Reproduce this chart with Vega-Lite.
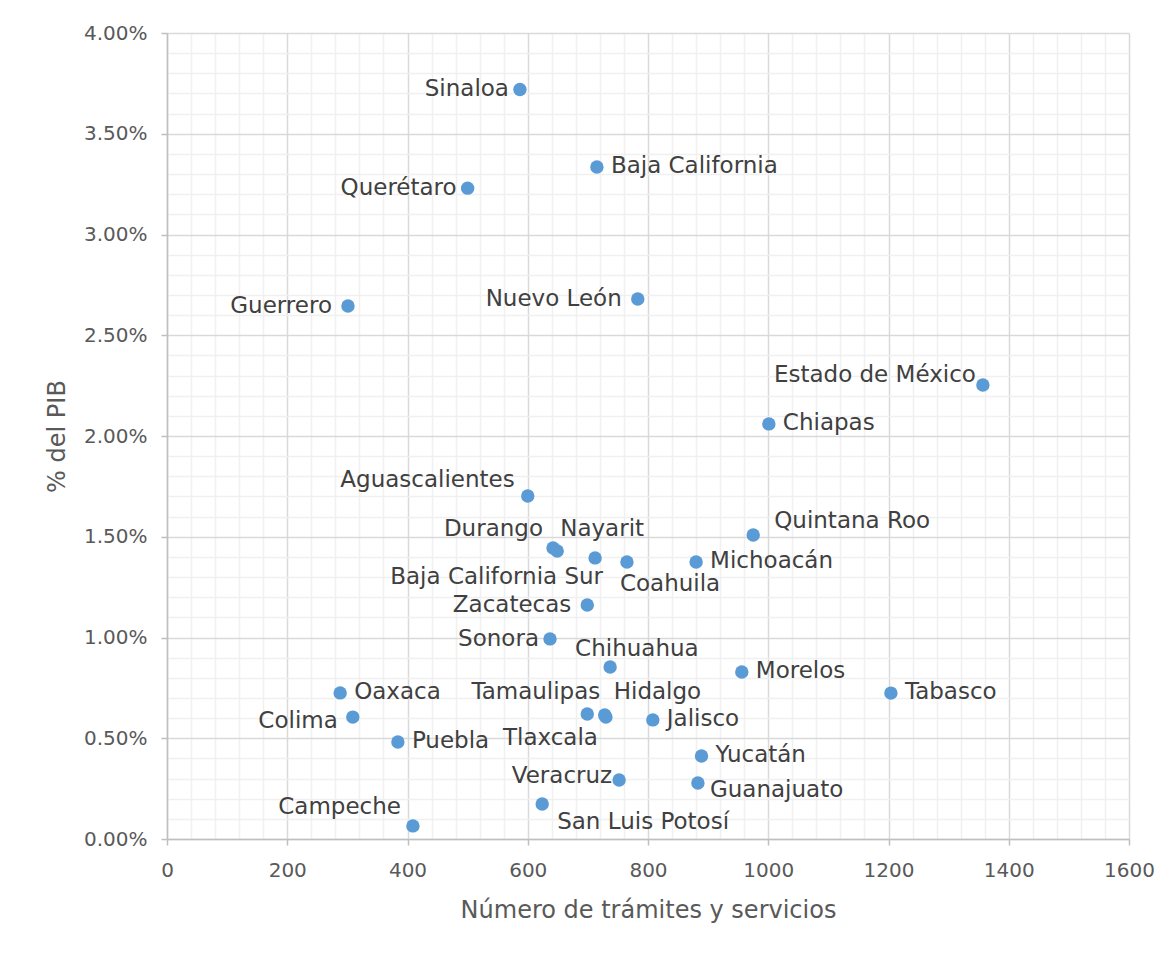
{
  "$schema": "https://vega.github.io/schema/vega-lite/v6.json",
  "width": 962,
  "height": 806,
  "autosize": {"type": "none"},
  "padding": {"left": 167, "top": 33, "right": 46, "bottom": 114},
  "background": "white",
  "config": {
    "view": {"stroke": null},
    "font": "DejaVu Sans",
    "text": {"fontSize": 23, "color": "#404040", "font": "DejaVu Sans", "baseline": "middle"},
    "axis": {
      "labelFont": "DejaVu Sans",
      "labelFontSize": 20,
      "labelColor": "#595959",
      "titleFont": "DejaVu Sans",
      "titleFontSize": 24,
      "titleFontWeight": "normal",
      "titleColor": "#595959",
      "domainColor": "#BFBFBF",
      "domainWidth": 1.5,
      "tickColor": "#BFBFBF",
      "tickWidth": 1.5,
      "tickSize": 6,
      "gridWidth": 1.5,
      "labelOverlap": false,
      "labelFlush": false,
      "labelBound": false
    }
  },
  "data": {
    "values": [
      {"estado": "Sinaloa", "tramites": 587, "pib": 0.0372},
      {"estado": "Baja California", "tramites": 715, "pib": 0.03335},
      {"estado": "Querétaro", "tramites": 500, "pib": 0.0323},
      {"estado": "Guerrero", "tramites": 301, "pib": 0.02645},
      {"estado": "Nuevo León", "tramites": 783, "pib": 0.0268},
      {"estado": "Estado de México", "tramites": 1357, "pib": 0.02253},
      {"estado": "Chiapas", "tramites": 1001, "pib": 0.0206},
      {"estado": "Aguascalientes", "tramites": 600, "pib": 0.01702},
      {"estado": "Quintana Roo", "tramites": 975, "pib": 0.01509},
      {"estado": "Durango", "tramites": 642, "pib": 0.01444},
      {"estado": "Nayarit", "tramites": 649, "pib": 0.01429},
      {"estado": "Baja California Sur", "tramites": 712, "pib": 0.01395},
      {"estado": "Coahuila", "tramites": 765, "pib": 0.01375},
      {"estado": "Michoacán", "tramites": 880, "pib": 0.01375},
      {"estado": "Zacatecas", "tramites": 699, "pib": 0.01161},
      {"estado": "Sonora", "tramites": 637, "pib": 0.00993},
      {"estado": "Chihuahua", "tramites": 737, "pib": 0.00854},
      {"estado": "Morelos", "tramites": 956, "pib": 0.00829},
      {"estado": "Oaxaca", "tramites": 288, "pib": 0.00725},
      {"estado": "Tamaulipas", "tramites": 699, "pib": 0.0062},
      {"estado": "Hidalgo", "tramites": 728, "pib": 0.00615},
      {"estado": "Tlaxcala", "tramites": 730, "pib": 0.00605},
      {"estado": "Tabasco", "tramites": 1204, "pib": 0.00724},
      {"estado": "Colima", "tramites": 309, "pib": 0.00605},
      {"estado": "Jalisco", "tramites": 808, "pib": 0.00591},
      {"estado": "Puebla", "tramites": 384, "pib": 0.00481},
      {"estado": "Yucatán", "tramites": 889, "pib": 0.00412},
      {"estado": "Veracruz", "tramites": 752, "pib": 0.00293},
      {"estado": "Guanajuato", "tramites": 883, "pib": 0.00278},
      {"estado": "San Luis Potosí", "tramites": 624, "pib": 0.00174},
      {"estado": "Campeche", "tramites": 409, "pib": 0.00065}
    ]
  },
  "encoding": {
    "x": {
      "field": "tramites",
      "type": "quantitative",
      "scale": {"domain": [0, 1600], "nice": false, "zero": true},
      "axis": {
        "title": "Número de trámites y servicios",
        "titlePadding": 18,
        "labelPadding": 15,
        "format": "d",
        "values": [0, 40, 80, 120, 160, 200, 240, 280, 320, 360, 400, 440, 480, 520, 560, 600, 640, 680, 720, 760, 800, 840, 880, 920, 960, 1000, 1040, 1080, 1120, 1160, 1200, 1240, 1280, 1320, 1360, 1400, 1440, 1480, 1520, 1560, 1600],
        "grid": true,
        "gridColor": {"condition": {"test": "datum.value % 200 === 0", "value": "#D9D9D9"}, "value": "#F0F0F0"},
        "tickOpacity": {"condition": {"test": "datum.value % 200 === 0", "value": 1}, "value": 0},
        "labelExpr": "datum.value % 200 === 0 ? datum.label : ''"
      }
    },
    "y": {
      "field": "pib",
      "type": "quantitative",
      "scale": {"domain": [0, 0.04], "nice": false, "zero": true},
      "axis": {
        "title": "% del PIB",
        "titlePadding": 14,
        "labelPadding": 14,
        "format": ".2%",
        "values": [0, 0.001, 0.002, 0.003, 0.004, 0.005, 0.006, 0.007, 0.008, 0.009, 0.01, 0.011, 0.012, 0.013, 0.014, 0.015, 0.016, 0.017, 0.018, 0.019, 0.02, 0.021, 0.022, 0.023, 0.024, 0.025, 0.026, 0.027, 0.028, 0.029, 0.03, 0.031, 0.032, 0.033, 0.034, 0.035, 0.036, 0.037, 0.038, 0.039, 0.04],
        "grid": true,
        "gridColor": {"condition": {"test": "round(datum.value * 1000) % 5 === 0", "value": "#D9D9D9"}, "value": "#F0F0F0"},
        "tickOpacity": {"condition": {"test": "round(datum.value * 1000) % 5 === 0", "value": 1}, "value": 0},
        "labelExpr": "round(datum.value * 1000) % 5 === 0 ? datum.label : ''"
      }
    }
  },
  "layer": [
    {
      "mark": {"type": "circle", "size": 180, "color": "#5B9BD5", "opacity": 1}
    },
    {
      "transform": [{"filter": {"field": "estado", "oneOf": ["Baja California", "Chiapas", "Michoacán", "Morelos", "Oaxaca", "Tabasco", "Jalisco", "Puebla", "Yucatán"]}}],
      "mark": {"type": "text", "align": "left", "dx": 14, "dy": -1},
      "encoding": {"text": {"field": "estado"}}
    },
    {
      "transform": [{"filter": {"field": "estado", "oneOf": ["Sinaloa", "Querétaro", "Sonora"]}}],
      "mark": {"type": "text", "align": "right", "dx": -11, "dy": 0},
      "encoding": {"text": {"field": "estado"}}
    },
    {
      "transform": [{"filter": {"field": "estado", "oneOf": ["Guerrero", "Nuevo León", "Zacatecas"]}}],
      "mark": {"type": "text", "align": "right", "dx": -16, "dy": 0},
      "encoding": {"text": {"field": "estado"}}
    },
    {
      "transform": [{"filter": {"field": "estado", "equal": "Colima"}}],
      "mark": {"type": "text", "align": "right", "dx": -15, "dy": 4},
      "encoding": {"text": {"field": "estado"}}
    },
    {
      "transform": [{"filter": {"field": "estado", "equal": "Veracruz"}}],
      "mark": {"type": "text", "align": "right", "dx": -7, "dy": -4},
      "encoding": {"text": {"field": "estado"}}
    },
    {
      "transform": [{"filter": {"field": "estado", "equal": "Estado de México"}}],
      "mark": {"type": "text", "align": "right", "dx": -7, "dy": -10},
      "encoding": {"text": {"field": "estado"}}
    },
    {
      "transform": [{"filter": {"field": "estado", "equal": "Aguascalientes"}}],
      "mark": {"type": "text", "align": "right", "dx": -13, "dy": -16},
      "encoding": {"text": {"field": "estado"}}
    },
    {
      "transform": [{"filter": {"field": "estado", "equal": "Quintana Roo"}}],
      "mark": {"type": "text", "align": "left", "dx": 21, "dy": -14},
      "encoding": {"text": {"field": "estado"}}
    },
    {
      "transform": [{"filter": {"field": "estado", "equal": "Durango"}}],
      "mark": {"type": "text", "align": "right", "dx": -10, "dy": -19},
      "encoding": {"text": {"field": "estado"}}
    },
    {
      "transform": [{"filter": {"field": "estado", "equal": "Nayarit"}}],
      "mark": {"type": "text", "align": "left", "dx": 3, "dy": -22},
      "encoding": {"text": {"field": "estado"}}
    },
    {
      "transform": [{"filter": {"field": "estado", "equal": "Baja California Sur"}}],
      "mark": {"type": "text", "align": "right", "dx": 8, "dy": 19},
      "encoding": {"text": {"field": "estado"}}
    },
    {
      "transform": [{"filter": {"field": "estado", "equal": "Coahuila"}}],
      "mark": {"type": "text", "align": "left", "dx": -7, "dy": 22},
      "encoding": {"text": {"field": "estado"}}
    },
    {
      "transform": [{"filter": {"field": "estado", "equal": "Chihuahua"}}],
      "mark": {"type": "text", "align": "left", "dx": -35, "dy": -18},
      "encoding": {"text": {"field": "estado"}}
    },
    {
      "transform": [{"filter": {"field": "estado", "equal": "Tamaulipas"}}],
      "mark": {"type": "text", "align": "right", "dx": 13, "dy": -22},
      "encoding": {"text": {"field": "estado"}}
    },
    {
      "transform": [{"filter": {"field": "estado", "equal": "Hidalgo"}}],
      "mark": {"type": "text", "align": "left", "dx": 9, "dy": -23},
      "encoding": {"text": {"field": "estado"}}
    },
    {
      "transform": [{"filter": {"field": "estado", "equal": "Tlaxcala"}}],
      "mark": {"type": "text", "align": "right", "dx": -8, "dy": 21},
      "encoding": {"text": {"field": "estado"}}
    },
    {
      "transform": [{"filter": {"field": "estado", "equal": "Guanajuato"}}],
      "mark": {"type": "text", "align": "left", "dx": 12, "dy": 7},
      "encoding": {"text": {"field": "estado"}}
    },
    {
      "transform": [{"filter": {"field": "estado", "equal": "Campeche"}}],
      "mark": {"type": "text", "align": "right", "dx": -12, "dy": -19},
      "encoding": {"text": {"field": "estado"}}
    },
    {
      "transform": [{"filter": {"field": "estado", "equal": "San Luis Potosí"}}],
      "mark": {"type": "text", "align": "left", "dx": 15, "dy": 18},
      "encoding": {"text": {"field": "estado"}}
    }
  ]
}
